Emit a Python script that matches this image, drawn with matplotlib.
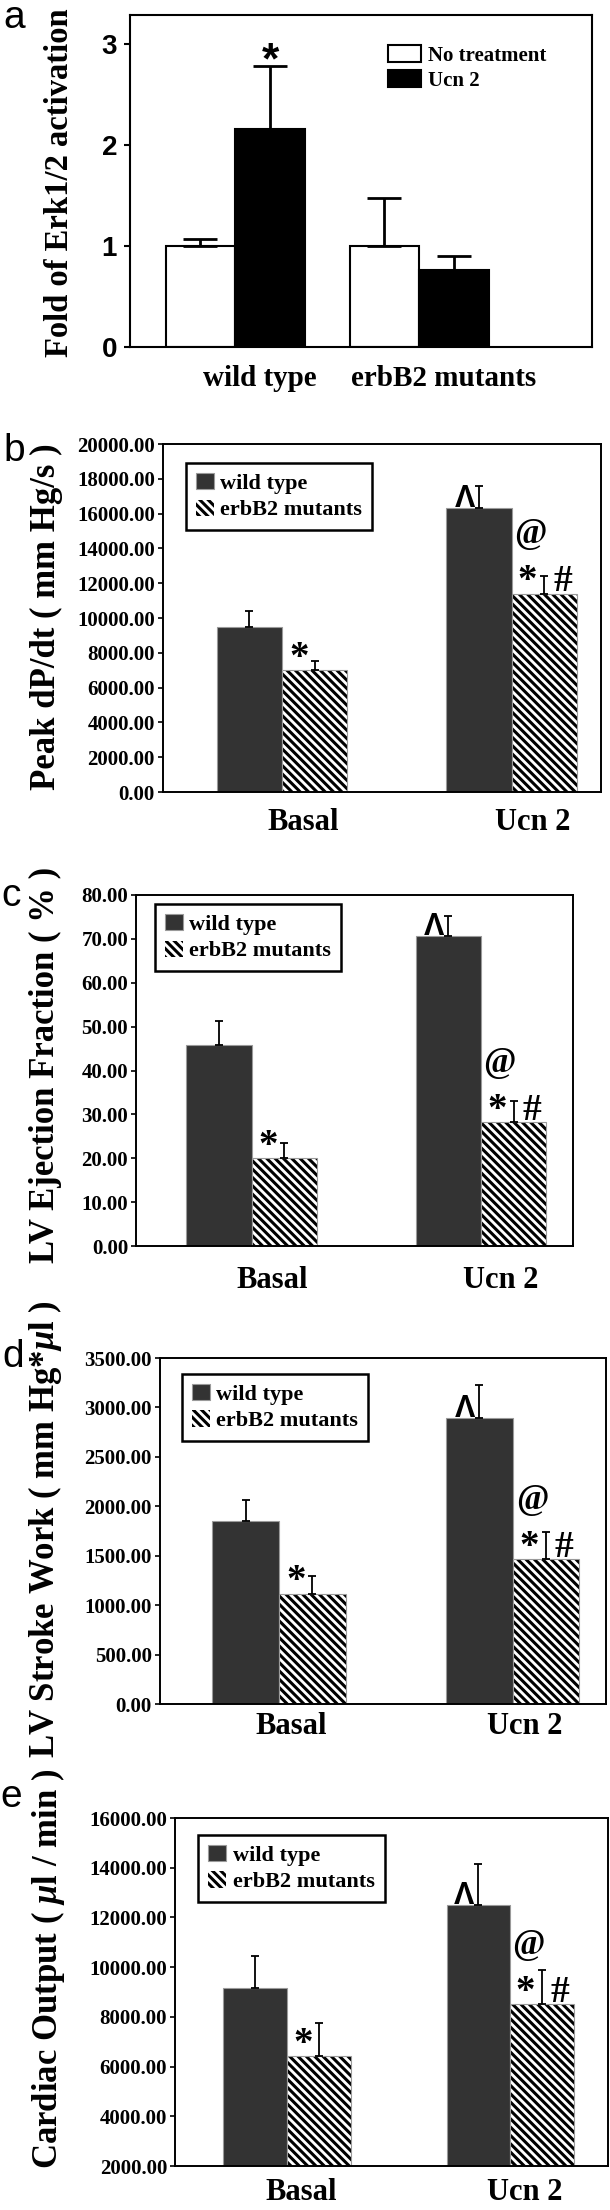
import numpy as np
import matplotlib
matplotlib.use("Agg")
import matplotlib.pyplot as plt
from matplotlib.ticker import FormatStrFormatter

W, H, DPI = 610, 2210, 100
SERIF = "Liberation Serif"
SANS = "Liberation Sans"

plt.rcParams['hatch.linewidth'] = 2.2
plt.rcParams['mathtext.fontset'] = 'custom'
plt.rcParams['mathtext.rm'] = 'Liberation Serif:bold'
plt.rcParams['mathtext.it'] = 'Liberation Serif:italic:bold'

# ---- panel a : Erk1/2 activation ----
erk_groups = ["wild type", "erbB2 mutants"]
erk_no_treat = [1.0, 1.0]
erk_no_treat_err = [0.066, 0.48]
erk_ucn2 = [2.165, 0.76]
erk_ucn2_err = [0.615, 0.14]

# ---- panels b-e : hemodynamics ----
conditions = ["Basal", "Ucn 2"]

dpdt_wt = [9500, 16300]
dpdt_wt_err = [900, 1300]
dpdt_mut = [7000, 11400]
dpdt_mut_err = [550, 1000]

ef_wt = [45.7, 70.7]
ef_wt_err = [5.6, 4.6]
ef_mut = [20.0, 28.2]
ef_mut_err = [3.4, 4.9]

sw_wt = [1850, 2890]
sw_wt_err = [215, 340]
sw_mut = [1113, 1463]
sw_mut_err = [180, 278]

co_wt = [9160, 12520]
co_wt_err = [1280, 1620]
co_mut = [6420, 8500]
co_mut_err = [1325, 1380]


def rect(x0, y0, x1, y1):
    # pixel box (top-left origin) -> figure fraction
    return [x0 / W, 1 - y1 / H, (x1 - x0) / W, (y1 - y0) / H]


def fig_text(x, y, s, **kw):
    fig.text(x / W, 1 - y / H, s, ha="center", va="center", **kw)


fig = plt.figure(figsize=(W / DPI, H / DPI), dpi=DPI)

# ================= a =================
ax = fig.add_axes(rect(130, 15, 592, 347))
x = np.arange(2)
bw = 0.38
ax.bar(x - bw / 2, erk_no_treat, bw, color="white", edgecolor="black", lw=1.5, label="No treatment")
ax.bar(x + bw / 2, erk_ucn2, bw, color="black", edgecolor="black", lw=1.5, label="Ucn 2")
ax.errorbar(x - bw / 2, erk_no_treat, yerr=[np.zeros(2), erk_no_treat_err], fmt="none",
            ecolor="black", elinewidth=2, capsize=12, capthick=2)
ax.errorbar(x + bw / 2, erk_ucn2, yerr=[np.zeros(2), erk_ucn2_err], fmt="none",
            ecolor="black", elinewidth=2, capsize=12, capthick=2)
ax.set_xlim(-0.573, 1.938)
ax.set_ylim(0, 3.29)
ax.set_yticks([0, 1, 2, 3])
ax.set_xticks([])
ax.tick_params(axis="y", length=4.3, width=1.5, pad=5)
for lab in ax.get_yticklabels():
    lab.set_fontfamily(SANS)
    lab.set_fontweight("bold")
    lab.set_fontsize(20)
for sp in ax.spines.values():
    sp.set_linewidth(1.5)
for i, g in enumerate(erk_groups):
    ax.annotate(g, xy=(x[i], 0), xycoords=("data", "axes fraction"), xytext=(24, -31),
                textcoords="offset pixels", ha="center", va="center", annotation_clip=False,
                family=SERIF, fontweight="bold", fontsize=21)
ax.annotate("*", xy=(x[0] + bw / 2, erk_ucn2[0] + erk_ucn2_err[0]), xytext=(0, 5),
            textcoords="offset pixels", ha="center", va="center",
            family=SANS, fontweight="bold", fontsize=32)
ax.legend(loc="upper left", bbox_to_anchor=(0.558, 0.91), frameon=False, borderpad=0,
          borderaxespad=0, handlelength=1.6, handleheight=0.9, handletextpad=0.35,
          labelspacing=0.2, prop={"family": SERIF, "weight": "bold", "size": 15})
fig_text(60, 183, "Fold of Erk1/2 activation", rotation=90, family=SERIF,
         fontweight="bold", fontsize=23.5)
fig_text(14, 18, "a", family=SANS, fontsize=28)

# ================= b-e =================
panels = [
    dict(box=(162.6, 444, 601, 792), wt=dpdt_wt, wt_err=dpdt_wt_err, mut=dpdt_mut, mut_err=dpdt_mut_err,
         xlim=(-0.52, 1.389), ylim=(0, 20000), step=2000, leg=(0.053, 0.945),
         ylabel="Peak dP/dt ( mm Hg/s )", ylab_xy=(46, 617), xl=(21, 30), letter="b", let_xy=(14, 451)),
    dict(box=(136, 895, 573, 1246), wt=ef_wt, wt_err=ef_wt_err, mut=ef_mut, mut_err=ef_mut_err,
         xlim=(-0.505, 1.401), ylim=(0, 80), step=10, leg=(0.043, 0.974),
         ylabel="LV Ejection Fraction ( % )", ylab_xy=(45, 1065), xl=(20, 34), letter="c", let_xy=(11, 896)),
    dict(box=(159.5, 1358, 606, 1704), wt=sw_wt, wt_err=sw_wt_err, mut=sw_mut, mut_err=sw_mut_err,
         xlim=(-0.511, 1.399), ylim=(0, 3500), step=500, leg=(0.05, 0.954),
         ylabel=r"LV Stroke Work ( mm Hg*$\mu$l )", ylab_xy=(45, 1529), xl=(12, 23), letter="d", let_xy=(13, 1357)),
    dict(box=(175, 1818, 607.7, 2166), wt=co_wt, wt_err=co_wt_err, mut=co_mut, mut_err=co_mut_err,
         xlim=(-0.501, 1.436), ylim=(2000, 16000), step=2000, leg=(0.054, 0.951),
         ylabel=r"Cardiac Output ( $\mu$l / min )", ylab_xy=(48, 1969), xl=(14, 26), letter="e", let_xy=(11, 1797)),
]

bw = 0.285
for p in panels:
    ax = fig.add_axes(rect(*p["box"]))
    x = np.arange(2)
    ax.bar(x - bw / 2, p["wt"], bw, color="#333333", edgecolor="#9a9a9a", lw=0.8, label="wild type")
    hb = ax.bar(x + bw / 2, p["mut"], bw, color="white", edgecolor="black", hatch="\\\\\\\\", lw=0,
                label="erbB2 mutants")
    for patch in hb:
        if hasattr(patch, "set_hatch_linewidth"):
            patch.set_hatch_linewidth(2.2)
    ax.bar(x + bw / 2, p["mut"], bw, fill=False, edgecolor="#9a9a9a", lw=0.8)
    ax.errorbar(x - bw / 2, p["wt"], yerr=[np.zeros(2), p["wt_err"]], fmt="none",
                ecolor="black", elinewidth=1.3, capsize=3, capthick=1.3)
    ax.errorbar(x + bw / 2, p["mut"], yerr=[np.zeros(2), p["mut_err"]], fmt="none",
                ecolor="black", elinewidth=1.3, capsize=3, capthick=1.3)
    ax.set_xlim(*p["xlim"])
    ax.set_ylim(*p["ylim"])
    ax.set_yticks(np.arange(p["ylim"][0], p["ylim"][1] + p["step"] / 2, p["step"]))
    ax.yaxis.set_major_formatter(FormatStrFormatter("%.2f"))
    ax.set_xticks([])
    ax.tick_params(axis="y", length=3.6, width=1.2, pad=2)
    for lab in ax.get_yticklabels():
        lab.set_fontfamily(SERIF)
        lab.set_fontweight("bold")
        lab.set_fontsize(15)
    for sp in ax.spines.values():
        sp.set_linewidth(1.4)
    dx, dy = p["xl"]
    for i, c in enumerate(conditions):
        ax.annotate(c, xy=(x[i], 0), xycoords=("data", "axes fraction"), xytext=(dx, -dy),
                    textcoords="offset pixels", ha="center", va="center", annotation_clip=False,
                    family=SERIF, fontweight="bold", fontsize=22)

    # significance marks: (text, anchor, offset px, size, family)
    marks = [
        ("*", (x[0] + bw / 2, p["mut"][0]), (-16, 12), 28, SERIF),
        ("Λ", (x[1] - bw / 2, p["wt"][1]), (-14, 9), 22, SANS),
        ("@", (x[1] + bw / 2, p["mut"][1]), (-14, 59), 25, SERIF),
        ("*", (x[1] + bw / 2, p["mut"][1]), (-17, 12), 28, SERIF),
        ("#", (x[1] + bw / 2, p["mut"][1]), (18, 12), 27, SERIF),
    ]
    for s, xy, off, fs, fam in marks:
        ax.annotate(s, xy=xy, xytext=off, textcoords="offset pixels", ha="center", va="center",
                    family=fam, fontweight="bold", fontsize=fs)

    leg = ax.legend(loc="upper left", bbox_to_anchor=p["leg"], borderaxespad=0, fancybox=False,
                    framealpha=1, edgecolor="black", borderpad=0.45, handlelength=0.8,
                    handleheight=0.75, handletextpad=0.3, labelspacing=0.25,
                    prop={"family": SERIF, "weight": "bold", "size": 16})
    leg.get_frame().set_linewidth(1.8)

    fig_text(*p["ylab_xy"], p["ylabel"], rotation=90, family=SERIF, fontweight="bold", fontsize=25)
    fig_text(*p["let_xy"], p["letter"], family=SANS, fontsize=28)

fig.savefig("out.png", dpi=DPI)
